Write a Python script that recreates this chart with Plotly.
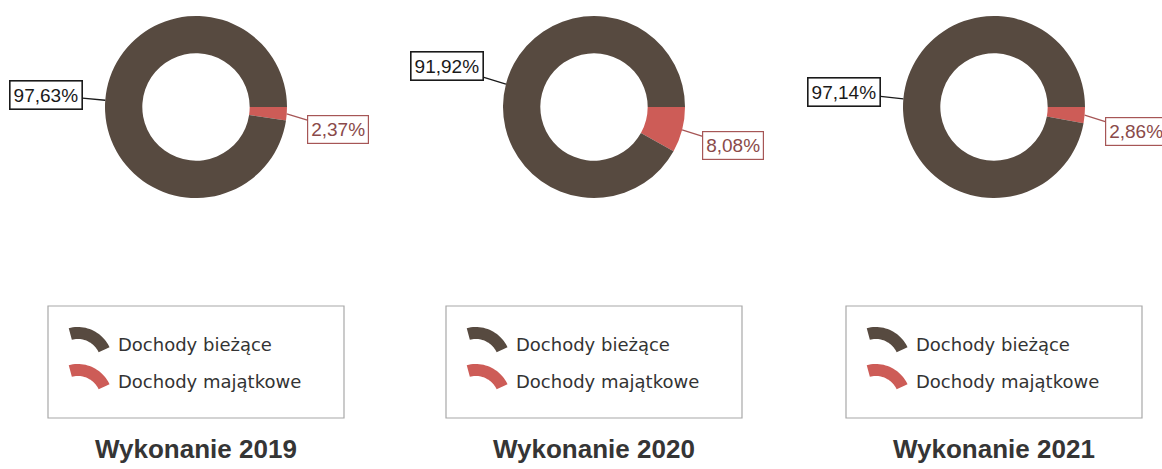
import numpy as np
import plotly.graph_objects as go

# ---- data ----
years = ["2019", "2020", "2021"]
categories = ["Dochody majątkowe", "Dochody bieżące"]
majatkowe = [2.37, 8.08, 2.86]
biezace = [97.63, 91.92, 97.14]
titles = ["Wykonanie 2019", "Wykonanie 2020", "Wykonanie 2021"]

# ---- style ----
OFF = 0                       # page body margin removed via post_script
W, H = 1162 - OFF, 469 - OFF
BROWN = "#574a40"
RED = "#cd5c57"
RED_DARK = "#a65656"
centers_x = [196, 594, 994]   # px in window
center_y = 107                # px from top
R = 91                        # outer radius px
HOLE = 0.59


def px(x):
    return (x - OFF) / W


def py(y):
    return 1 - (y - OFF) / H


fig = go.Figure()
annotations = []
shapes = []

for i, yr in enumerate(years):
    cx = centers_x[i]
    vals = [majatkowe[i], biezace[i]]
    fig.add_trace(go.Pie(
        labels=categories,
        values=vals,
        hole=HOLE,
        sort=False,
        direction="clockwise",
        rotation=90,
        marker=dict(colors=[RED, BROWN], line=dict(width=0)),
        textinfo="none",
        hoverinfo="label+percent",
        showlegend=False,
        domain=dict(x=[px(cx - R), px(cx + R)], y=[py(center_y + R), py(center_y - R)]),
    ))

    # data labels with leader lines (angles from data)
    total = sum(vals)
    start = 0.0
    for j, v in enumerate(vals):
        mid = start + v / total * 360 / 2  # degrees clockwise from 3 o'clock
        start += v / total * 360
        a = np.deg2rad(mid)
        ex = cx + R * np.cos(a)
        ey = center_y + R * np.sin(a)
        txt = f"{v:.2f}%".replace(".", ",")
        if j == 0:  # red
            ax, ay = 51, 16
            col, tcol, bw = RED_DARK, "#8a4a4a", 1.2
        else:
            ax, ay = -59, 0.8 * (ey - center_y)
            col, tcol, bw = "#1a1a1a", "#1a1a1a", 1.6
        annotations.append(dict(
            x=px(ex), y=py(ey), xref="paper", yref="paper",
            text=txt, showarrow=True, arrowhead=0, arrowwidth=1.3,
            arrowcolor=col, ax=ax, ay=ay, axref="pixel", ayref="pixel",
            font=dict(family="Liberation Sans, Arial", size=19, color=tcol),
            bordercolor=col, borderwidth=bw, borderpad=3, bgcolor="white",
        ))

    # legend box
    bl = cx - 148
    shapes.append(dict(type="rect", xref="paper", yref="paper",
                       x0=px(bl), x1=px(bl + 296), y0=py(418), y1=py(306),
                       line=dict(color="#a8a8a8", width=1.2)))
    # legend icons (ring segments)
    for k, (col, top) in enumerate([(BROWN, 328), (RED, 365)]):
        icx = bl + 21 + 8.8
        icy = top + 34
        ang = np.deg2rad(np.linspace(105, 25, 24))
        ro, ri = 35, 23
        pts = [(icx + ro * np.cos(t), icy - ro * np.sin(t)) for t in ang]
        pts += [(icx + ri * np.cos(t), icy - ri * np.sin(t)) for t in ang[::-1]]
        path = "M " + " L ".join(f"{px(x):.5f},{py(y):.5f}" for x, y in pts) + " Z"
        shapes.append(dict(type="path", xref="paper", yref="paper", path=path,
                           fillcolor=col, line=dict(width=0)))
        annotations.append(dict(
            x=px(bl + 68), y=py(top + 16), xref="paper", yref="paper",
            text=categories[1] if k == 0 else categories[0],
            showarrow=False, xanchor="left", yanchor="middle",
            font=dict(family="DejaVu Sans", size=18, color="#333333"),
        ))

    # title
    annotations.append(dict(
        x=px(cx), y=py(449), xref="paper", yref="paper", text=f"<b>{titles[i]}</b>",
        showarrow=False, xanchor="center", yanchor="middle",
        font=dict(family="Liberation Sans, Arial", size=26, color="#353535"),
    ))

fig.update_layout(
    width=W, height=H,
    margin=dict(l=0, r=0, t=0, b=0),
    paper_bgcolor="white", plot_bgcolor="white",
    annotations=annotations, shapes=shapes,
    showlegend=False,
)

fig.write_html(
    "out.html",
    config={"displayModeBar": False},
    post_script="document.body.style.margin='0';document.body.style.overflow='hidden';",
)
